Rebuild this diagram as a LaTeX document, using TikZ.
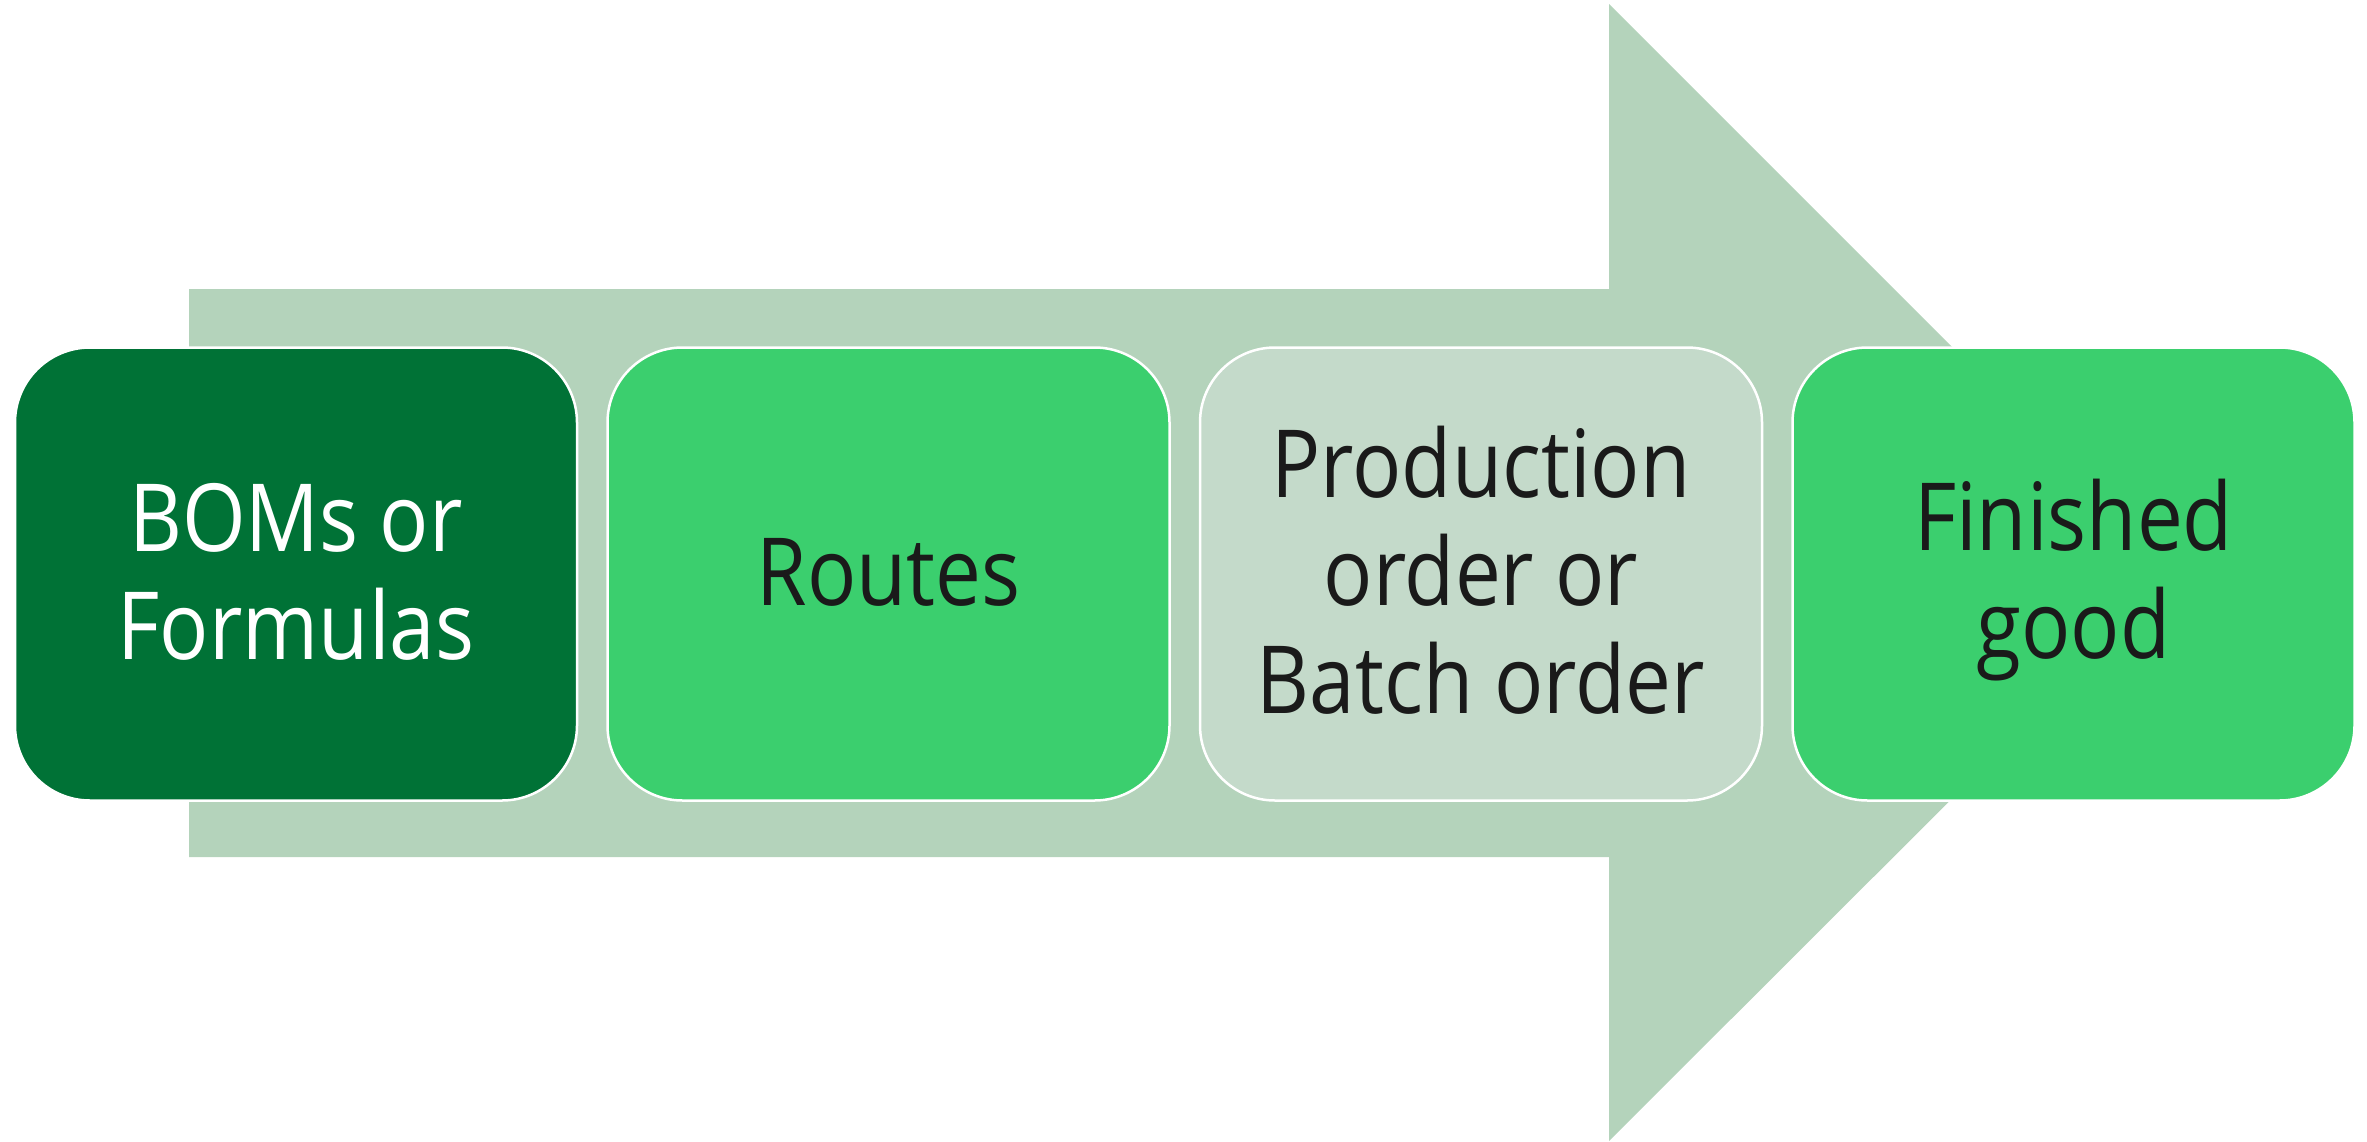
\documentclass[tikz,border=0pt]{standalone}
\usepackage{fontspec}
\setmainfont{Open Sans}[FakeStretch=0.87]
\usetikzlibrary{positioning}
\definecolor{arrowgreen}{RGB}{180,211,187}
\definecolor{darkgreen}{RGB}{0,114,54}
\definecolor{midgreen}{RGB}{59,207,110}
\definecolor{palegreen}{RGB}{196,218,202}
\definecolor{textblack}{RGB}{26,26,26}
% same line height and depth in every box
\newcommand{\boxstrut}{\rule[-22pt]{0pt}{106pt}}
\tikzset{
  stepbox/.style={draw=white, line width=2.5pt, rounded corners=75pt,
    minimum width=562pt, minimum height=453pt, inner sep=0pt,
    align=center, text=textblack,
    font=\fontsize{94}{108}\selectfont},
}
\begin{document}
\begin{tikzpicture}[x=1pt,y=-1pt]
	\useasboundingbox (0,0) rectangle (2367,1141);

	% big arrow behind
	\fill[arrowgreen] (189,289) -- (1609,289) -- (1609,4) -- (2178,573)
	  -- (1609,1141) -- (1609,857) -- (189,857) -- cycle;

	\node[stepbox, fill=darkgreen, text=white] (bom) at (296,574) {\boxstrut BOMs or\\Formulas\boxstrut};
	\node[stepbox, fill=midgreen, right=28pt of bom] (routes) {\boxstrut Routes};
	\node[stepbox, fill=palegreen, right=28pt of routes] (order) {\boxstrut Production\\order or\\Batch order\boxstrut};
	\node[stepbox, fill=midgreen, right=28pt of order] (good) {\boxstrut Finished\\good\boxstrut};
\end{tikzpicture}
\end{document}
